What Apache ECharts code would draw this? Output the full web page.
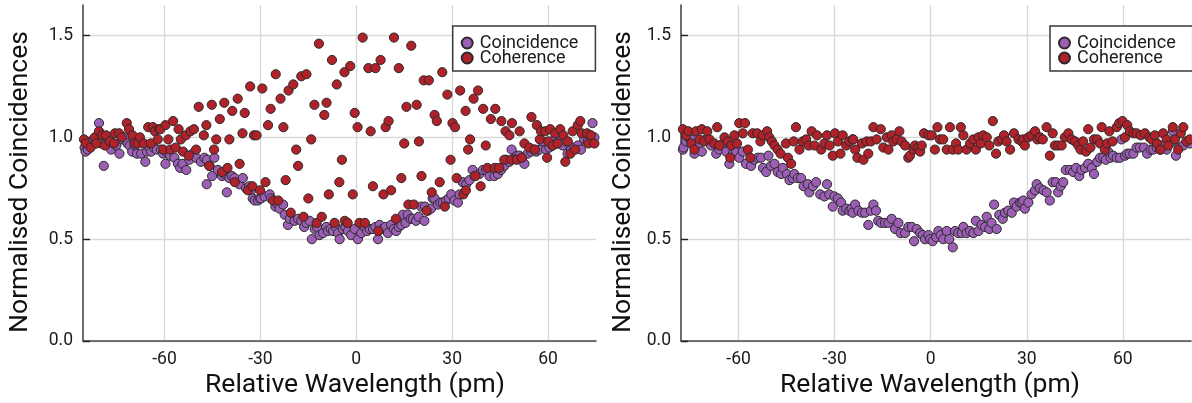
<!DOCTYPE html>
<html>
<head>
<meta charset="utf-8">
<title>Coincidence and coherence vs relative wavelength</title>
<script src="https://cdn.jsdelivr.net/npm/echarts@6.0.0/dist/echarts.min.js"></script>
<style>
  html, body { margin: 0; padding: 0; background: #ffffff; }
  #chart { width: 1192px; height: 403px; }
</style>
</head>
<body>
<div id="chart"></div>
<script>
// Axis ticks
const wavelengthTicks = [-60, -30, 0, 30, 60];
const valueTicks = [0, 0.5, 1.0, 1.5];
const seriesNames = ['Coincidence', 'Coherence'];

// Left panel: [relative wavelength (pm), normalised coincidences]
const coincidenceA = [
  [-85.0,0.95],[-84.7,0.93],[-84.0,0.94],[-83.0,0.97],[-82.2,0.99],[-81.4,0.98],[-80.5,1.07],[-79.8,0.97],
  [-79.0,0.86],[-78.2,0.99],[-77.5,0.98],[-76.7,0.94],[-75.9,0.97],[-75.1,0.96],[-74.1,0.92],[-73.3,0.99],
  [-72.5,1.00],[-71.6,0.97],[-70.9,0.96],[-70.1,0.93],[-69.3,0.96],[-68.6,0.92],[-67.3,0.92],[-66.0,0.88],
  [-65.5,0.93],[-64.8,0.95],[-64.2,0.93],[-63.3,0.95],[-62.4,0.94],[-61.1,0.94],[-60.4,0.92],[-59.7,0.87],
  [-58.9,0.92],[-58.2,0.91],[-56.9,0.90],[-55.8,0.87],[-55.1,0.85],[-54.3,0.87],[-53.2,0.84],[-52.2,0.89],
  [-51.2,0.92],[-50.1,0.90],[-48.6,0.88],[-47.5,0.90],[-46.8,0.77],[-46.7,0.89],[-45.9,0.86],[-45.1,0.81],
  [-44.4,0.90],[-43.3,0.84],[-42.0,0.81],[-41.2,0.82],[-40.5,0.73],[-39.7,0.80],[-38.9,0.81],[-38.1,0.80],
  [-36.6,0.77],[-35.5,0.80],[-34.5,0.75],[-33.5,0.76],[-32.9,0.74],[-32.4,0.70],[-31.8,0.69],[-30.8,0.69],
  [-30.2,0.70],[-29.8,0.70],[-28.7,0.71],[-27.1,0.72],[-26.6,0.70],[-25.3,0.66],[-24.6,0.67],[-24.0,0.65],
  [-22.9,0.67],[-22.4,0.62],[-21.4,0.57],[-20.8,0.60],[-19.3,0.59],[-18.2,0.60],[-17.2,0.59],[-16.3,0.56],
  [-15.6,0.58],[-14.6,0.59],[-13.9,0.50],[-13.0,0.55],[-12.3,0.56],[-11.5,0.52],[-10.4,0.53],[-9.4,0.56],
  [-8.9,0.54],[-8.0,0.55],[-7.3,0.54],[-6.4,0.56],[-5.7,0.53],[-5.2,0.50],[-4.2,0.55],[-3.4,0.56],
  [-2.6,0.54],[-1.6,0.52],[-0.5,0.55],[0.5,0.50],[1.6,0.53],[2.6,0.56],[3.4,0.54],[4.2,0.55],
  [5.2,0.55],[6.0,0.56],[6.8,0.50],[7.3,0.57],[8.3,0.55],[9.1,0.56],[9.9,0.53],[10.9,0.57],
  [11.7,0.55],[12.5,0.54],[13.3,0.56],[14.1,0.57],[14.6,0.62],[15.4,0.58],[16.1,0.62],[17.0,0.60],
  [17.7,0.60],[18.7,0.59],[19.5,0.61],[20.3,0.66],[21.3,0.59],[21.5,0.66],[22.4,0.64],[23.4,0.65],
  [23.9,0.70],[24.5,0.70],[25.5,0.67],[26.3,0.68],[27.1,0.68],[28.1,0.69],[28.9,0.70],[29.7,0.72],
  [30.7,0.69],[31.8,0.68],[32.3,0.72],[33.3,0.78],[34.4,0.77],[35.4,0.79],[36.4,0.84],[37.0,0.81],
  [38.5,0.82],[39.6,0.84],[40.6,0.84],[41.7,0.81],[43.2,0.81],[44.3,0.82],[45.3,0.84],[46.3,0.86],
  [46.9,0.89],[47.9,0.88],[48.6,0.94],[49.5,0.90],[50.3,0.91],[51.0,0.91],[51.8,0.90],[52.6,0.87],
  [53.6,0.92],[54.7,0.93],[55.5,0.94],[56.3,0.93],[57.3,0.94],[58.3,0.98],[59.4,0.94],[60.4,0.95],
  [61.4,0.96],[62.0,0.99],[62.8,0.97],[63.5,0.98],[64.6,0.96],[65.6,0.98],[66.1,0.92],[67.2,0.94],
  [68.2,0.95],[69.3,0.96],[70.3,0.94],[71.3,0.99],[72.4,0.98],[73.2,1.01],[73.9,1.07],[74.5,1.00]
];

const coherenceA = [
  [-85.2,0.99],[-84.6,0.97],[-83.1,0.95],[-81.8,1.00],[-81.3,0.97],[-80.5,1.03],[-79.5,1.01],[-78.6,0.96],
  [-78.3,1.01],[-77.1,0.98],[-75.8,0.97],[-75.5,1.02],[-74.2,1.02],[-73.4,1.00],[-71.8,1.07],[-71.1,1.04],
  [-70.0,1.01],[-69.4,0.97],[-68.4,0.97],[-67.7,1.00],[-66.5,0.97],[-65.1,1.05],[-64.3,0.97],[-63.6,1.05],
  [-63.0,1.03],[-62.1,0.99],[-61.7,1.04],[-61.3,1.04],[-60.4,0.94],[-59.7,1.06],[-58.8,0.99],[-58.2,0.94],
  [-57.3,1.08],[-56.5,0.95],[-55.6,1.04],[-54.9,0.99],[-54.2,0.93],[-53.3,1.01],[-52.4,0.91],[-51.9,1.03],
  [-50.8,1.04],[-50.1,0.94],[-49.3,1.15],[-47.7,1.01],[-46.9,1.06],[-46.0,0.86],[-45.2,1.16],[-44.5,0.94],
  [-43.8,0.99],[-42.7,1.09],[-42.0,0.83],[-41.3,1.17],[-40.3,0.85],[-39.7,0.99],[-38.8,1.13],[-38.0,0.78],
  [-37.1,1.19],[-36.5,0.87],[-35.6,1.02],[-34.9,1.12],[-33.9,0.74],[-33.2,1.25],[-32.5,0.76],[-32.0,1.01],
  [-31.2,1.01],[-30.1,0.74],[-29.4,1.24],[-28.4,0.78],[-27.6,1.06],[-26.8,1.14],[-26.0,0.69],[-25.2,1.31],
  [-24.4,0.69],[-23.7,1.19],[-22.8,1.05],[-22.1,0.79],[-21.2,1.23],[-20.5,0.63],[-19.7,1.26],[-18.8,0.94],
  [-18.2,0.86],[-17.2,1.30],[-16.5,0.61],[-15.6,1.31],[-15.0,0.70],[-14.1,0.99],[-13.1,1.16],[-12.4,0.58],
  [-11.7,1.46],[-10.8,0.61],[-10.0,1.11],[-9.3,1.17],[-8.6,0.72],[-7.6,1.38],[-6.8,0.58],[-6.1,1.26],
  [-5.3,0.78],[-4.5,0.89],[-3.7,1.32],[-3.6,0.59],[-2.7,0.58],[-1.9,1.35],[-1.1,0.72],[-0.5,1.12],
  [0.4,1.05],[1.0,0.58],[2.0,1.49],[2.7,0.58],[3.8,1.34],[4.5,1.03],[5.2,0.76],[6.0,1.34],
  [6.9,0.54],[7.6,1.38],[8.5,0.72],[9.2,1.05],[10.1,1.08],[10.9,0.74],[11.8,1.49],[12.4,0.60],
  [13.3,1.34],[14.1,0.80],[15.0,0.97],[15.7,1.15],[16.3,0.67],[17.2,1.45],[18.0,0.67],[18.9,1.16],
  [19.6,0.98],[20.4,0.81],[21.1,1.28],[22.0,0.64],[22.7,1.28],[23.6,0.73],[24.5,1.11],[25.2,1.08],
  [26.1,0.78],[26.9,1.32],[27.7,0.66],[28.5,1.21],[29.5,0.89],[30.1,1.07],[30.9,1.05],[31.4,0.80],
  [32.5,1.23],[33.5,0.72],[34.2,1.13],[34.3,0.74],[35.0,0.94],[35.6,0.99],[36.7,1.19],[37.3,0.81],
  [38.1,1.23],[38.9,0.76],[39.7,1.14],[40.5,0.96],[41.0,0.85],[42.1,1.09],[43.3,0.85],[43.5,1.14],
  [44.7,0.85],[45.4,1.08],[46.3,0.89],[46.7,1.03],[47.9,1.01],[48.6,0.89],[48.7,1.07],[50.2,0.89],
  [51.1,1.03],[51.8,0.90],[52.6,0.97],[54.1,0.95],[54.8,1.10],[55.9,0.94],[56.5,1.06],[57.4,0.99],
  [57.8,1.03],[59.1,1.03],[59.7,0.90],[60.1,0.98],[60.7,1.04],[61.4,0.96],[62.2,1.02],[63.0,0.97],
  [63.8,1.04],[64.8,1.01],[65.4,0.88],[66.2,0.98],[67.0,0.92],[67.7,1.03],[68.5,0.94],[69.3,1.06],
  [70.1,1.08],[70.5,1.02],[72.2,1.02],[72.6,0.97],[73.4,1.01],[74.5,0.97]
];

// Right panel
const coincidenceB = [
  [-77.4,0.94],[-77.2,0.95],[-76.4,0.98],[-75.7,1.00],[-74.8,0.99],[-73.8,0.92],[-72.2,0.97],[-71.5,0.93],
  [-70.2,0.99],[-68.6,0.96],[-67.0,0.92],[-66.0,0.94],[-64.9,0.97],[-63.9,0.93],[-62.9,0.87],[-61.8,0.92],
  [-60.8,0.93],[-59.8,0.90],[-58.7,0.93],[-57.7,0.87],[-56.1,0.86],[-55.1,0.89],[-54.0,0.90],[-53.0,0.90],
  [-52.4,0.85],[-51.4,0.83],[-50.7,0.91],[-49.9,0.86],[-48.8,0.87],[-47.8,0.83],[-46.7,0.82],[-46.2,0.85],
  [-44.9,0.82],[-44.1,0.79],[-43.1,0.80],[-42.6,0.82],[-41.5,0.80],[-40.5,0.80],[-39.7,0.76],[-38.4,0.77],
  [-37.9,0.73],[-36.8,0.76],[-35.8,0.78],[-34.5,0.72],[-33.2,0.71],[-32.4,0.77],[-31.7,0.72],[-30.6,0.66],
  [-30.1,0.71],[-29.0,0.70],[-28.0,0.68],[-27.5,0.64],[-26.4,0.65],[-25.4,0.64],[-24.7,0.65],[-24.4,0.63],
  [-23.6,0.67],[-22.6,0.64],[-21.5,0.63],[-20.5,0.63],[-19.5,0.57],[-18.7,0.64],[-17.9,0.67],[-17.1,0.64],
  [-16.4,0.59],[-15.5,0.58],[-14.3,0.58],[-13.2,0.58],[-12.2,0.60],[-11.1,0.55],[-10.1,0.58],[-9.4,0.53],
  [-8.0,0.53],[-7.0,0.56],[-5.9,0.56],[-5.2,0.49],[-4.4,0.55],[-3.3,0.53],[-2.5,0.52],[-1.8,0.50],
  [-0.7,0.52],[-0.2,0.50],[0.6,0.49],[1.7,0.51],[2.4,0.54],[3.1,0.52],[3.9,0.50],[5.0,0.54],
  [5.8,0.50],[6.9,0.46],[7.6,0.54],[8.6,0.53],[9.7,0.53],[10.2,0.56],[11.2,0.53],[12.3,0.54],
  [13.3,0.53],[14.1,0.59],[14.9,0.54],[15.9,0.57],[17.0,0.56],[17.5,0.61],[18.3,0.55],[19.0,0.58],
  [19.8,0.67],[20.6,0.55],[21.4,0.62],[22.5,0.60],[23.2,0.63],[24.2,0.64],[25.3,0.63],[26.0,0.68],
  [26.8,0.66],[27.9,0.68],[28.4,0.68],[28.9,0.69],[29.4,0.65],[30.5,0.68],[31.5,0.72],[32.6,0.74],
  [33.1,0.77],[34.1,0.75],[35.2,0.74],[36.2,0.73],[37.2,0.69],[38.1,0.78],[39.1,0.78],[39.8,0.73],
  [40.6,0.76],[41.4,0.78],[42.2,0.84],[43.5,0.84],[44.5,0.83],[45.4,0.85],[46.4,0.81],[47.1,0.84],
  [48.2,0.85],[49.2,0.87],[50.3,0.85],[51.0,0.82],[52.0,0.88],[52.9,0.90],[53.9,0.90],[54.7,0.89],
  [55.4,0.93],[56.2,0.90],[57.0,0.91],[58.1,0.90],[59.1,0.90],[59.6,0.99],[60.7,0.91],[61.4,0.92],
  [62.2,0.92],[63.3,0.92],[64.3,0.95],[65.3,0.95],[66.6,0.95],[67.6,0.92],[68.7,0.94],[69.5,0.94],
  [70.6,0.95],[71.6,0.94],[72.6,0.96],[73.7,0.94],[74.7,0.97],[75.7,1.03],[76.6,0.91],[77.6,0.95],
  [78.9,0.96],[79.9,0.98],[80.9,0.97]
];

const coherenceB = [
  [-77.4,1.04],[-76.4,1.01],[-75.7,1.03],[-74.8,0.97],[-73.8,0.94],[-73.3,1.03],[-72.2,0.99],[-71.5,1.04],
  [-70.7,0.98],[-69.8,1.03],[-69.1,0.99],[-67.6,0.97],[-66.7,1.05],[-66.0,0.96],[-64.4,1.00],[-63.4,0.98],
  [-62.6,0.90],[-62.3,0.96],[-61.3,1.01],[-60.5,0.97],[-59.8,1.07],[-58.7,1.02],[-58.0,1.07],[-57.1,0.94],
  [-56.3,0.90],[-55.6,1.02],[-54.2,1.02],[-53.2,0.98],[-52.4,1.01],[-51.1,1.03],[-50.4,1.00],[-49.6,0.98],
  [-48.8,0.96],[-47.8,0.94],[-46.9,0.92],[-45.2,0.97],[-44.6,0.90],[-43.6,0.87],[-42.8,0.98],[-42.1,1.05],
  [-41.0,0.94],[-40.0,0.98],[-38.9,0.99],[-38.1,0.96],[-37.2,1.03],[-36.3,0.96],[-35.5,1.01],[-34.2,0.94],
  [-33.2,0.97],[-32.4,1.01],[-31.6,0.96],[-30.6,0.91],[-29.9,1.02],[-29.0,0.98],[-28.2,0.92],[-27.5,1.01],
  [-26.4,0.96],[-25.4,0.98],[-24.4,0.99],[-24.2,0.99],[-23.6,0.94],[-22.9,0.90],[-21.5,0.97],[-21.0,0.89],
  [-20.0,0.98],[-19.5,0.92],[-18.7,0.98],[-17.9,1.05],[-16.9,0.99],[-15.6,1.04],[-14.8,0.95],[-13.7,1.00],
  [-13.2,0.94],[-12.2,1.01],[-11.7,0.98],[-10.6,0.99],[-9.8,1.03],[-9.1,0.98],[-8.0,0.96],[-7.0,0.90],
  [-6.5,0.91],[-5.4,0.94],[-4.9,0.96],[-3.9,0.95],[-3.3,0.93],[-2.8,0.96],[-2.1,1.02],[-0.7,1.01],
  [0.3,1.01],[1.3,0.94],[2.1,1.05],[2.9,0.99],[3.9,0.99],[5.0,0.94],[6.0,1.05],[6.9,0.94],
  [7.9,0.97],[8.6,0.94],[9.4,1.05],[10.2,1.01],[11.2,0.94],[12.3,0.97],[13.3,0.99],[14.1,0.94],
  [14.9,1.00],[15.6,0.97],[16.4,1.01],[17.5,1.00],[18.3,0.96],[19.4,1.08],[20.4,0.92],[21.1,0.98],
  [22.2,0.99],[22.9,1.01],[23.7,0.98],[24.8,0.94],[26.0,1.02],[27.4,0.99],[28.4,0.98],[28.9,0.99],
  [29.4,0.96],[30.5,1.00],[31.5,1.01],[32.6,1.03],[33.3,0.99],[34.1,1.00],[35.0,0.99],[36.2,1.05],
  [37.2,0.91],[38.1,1.02],[38.8,0.96],[39.8,0.96],[40.9,0.96],[41.9,1.00],[43.0,1.02],[44.0,0.99],
  [45.1,0.98],[46.1,0.96],[46.8,0.94],[47.6,0.98],[48.5,0.93],[49.2,1.04],[49.9,0.95],[51.0,0.99],
  [52.0,0.99],[52.9,0.97],[53.4,1.05],[54.4,0.94],[55.1,0.97],[55.8,1.03],[56.8,0.98],[58.1,1.05],
  [58.9,1.07],[59.9,1.08],[60.7,1.00],[61.4,1.06],[62.2,1.03],[63.3,1.02],[64.3,1.02],[65.6,1.01],
  [66.9,1.02],[68.3,1.00],[69.0,0.99],[70.0,1.01],[70.7,0.97],[71.8,0.94],[72.6,1.02],[73.7,0.99],
  [74.2,0.96],[75.6,1.05],[76.3,0.99],[77.3,0.94],[78.1,1.02],[78.9,1.05],[79.9,0.98],[80.9,0.99]
];

const COLORS = { coincidence: '#9c5fb5', coherence: '#b0212a', edge: '#2a2a2a' };
const FONT = 'Roboto, "Noto Sans", sans-serif';
const AXIS_DARK = '#4a4a4a';
const GRID_LIGHT = '#d9d9d9';

function xAxisFor(gridIndex, min, max) {
  return {
    type: 'value', gridIndex, min, max,
    axisLine: { show: true, onZero: false, lineStyle: { color: AXIS_DARK, width: 1.6 } },
    axisTick: { show: false, customValues: wavelengthTicks },
    axisLabel: { customValues: wavelengthTicks, margin: 10, fontSize: 17.5, fontFamily: FONT, color: '#1a1a1a' },
    splitLine: { show: true, lineStyle: { color: GRID_LIGHT, width: 1.4 } }
  };
}

function yAxisFor(gridIndex) {
  return {
    type: 'value', gridIndex, min: 0, max: 1.65,
    axisLine: { show: true, onZero: false, lineStyle: { color: AXIS_DARK, width: 1.6 } },
    axisTick: { show: true, inside: true, length: 7, customValues: valueTicks, lineStyle: { color: '#222', width: 1.4 } },
    axisLabel: {
      customValues: valueTicks, margin: 10, fontSize: 17.5, fontFamily: FONT, color: '#1a1a1a',
      formatter: v => v.toFixed(1)
    },
    splitLine: { show: true, lineStyle: { color: GRID_LIGHT, width: 1.4 } }
  };
}

function scatter(name, data, idx, color) {
  return {
    type: 'scatter', name, data, xAxisIndex: idx, yAxisIndex: idx,
    symbol: 'circle', symbolSize: 9.2,
    itemStyle: { color, opacity: 1, borderColor: COLORS.edge, borderWidth: 1 },
    emphasis: { disabled: true }
  };
}

function legendAt(left) {
  return {
    orient: 'vertical', left, top: 26,
    data: seriesNames,
    backgroundColor: '#ffffff',
    borderColor: '#3a3a3a', borderWidth: 1.5, borderRadius: 0,
    padding: [8, 17, 4, 8],
    itemWidth: 15, itemHeight: 11, itemGap: -3,
    selectedMode: false,
    textStyle: { fontSize: 18, fontFamily: FONT, color: '#1a1a1a' }
  };
}

function axisTitle(x, y, text, rotate) {
  return {
    type: 'text', x, y, rotation: rotate ? Math.PI / 2 : 0,
    style: { text, fontSize: 26.5, fontFamily: FONT, fill: '#111', align: 'center', verticalAlign: 'middle' }
  };
}

const chart = echarts.init(document.getElementById('chart'), null, { renderer: 'canvas' });
chart.setOption({
  animation: false,
  backgroundColor: '#ffffff',
  grid: [
    { left: 83, top: 5, width: 513, height: 336 },
    { left: 681, top: 5, width: 510, height: 336 }
  ],
  xAxis: [xAxisFor(0, -85.5, 75), xAxisFor(1, -78, 81.3)],
  yAxis: [yAxisFor(0), yAxisFor(1)],
  legend: [legendAt(452.7), legendAt(1050)],
  series: [
    scatter(seriesNames[0], coincidenceA, 0, COLORS.coincidence),
    scatter(seriesNames[1], coherenceA, 0, COLORS.coherence),
    scatter(seriesNames[0], coincidenceB, 1, COLORS.coincidence),
    scatter(seriesNames[1], coherenceB, 1, COLORS.coherence)
  ],
  graphic: [
    axisTitle(20, 182, 'Normalised Coincidences', true),
    axisTitle(623, 182, 'Normalised Coincidences', true),
    axisTitle(355, 385, 'Relative Wavelength (pm)', false),
    axisTitle(930, 385, 'Relative Wavelength (pm)', false)
  ]
});
</script>
</body>
</html>
